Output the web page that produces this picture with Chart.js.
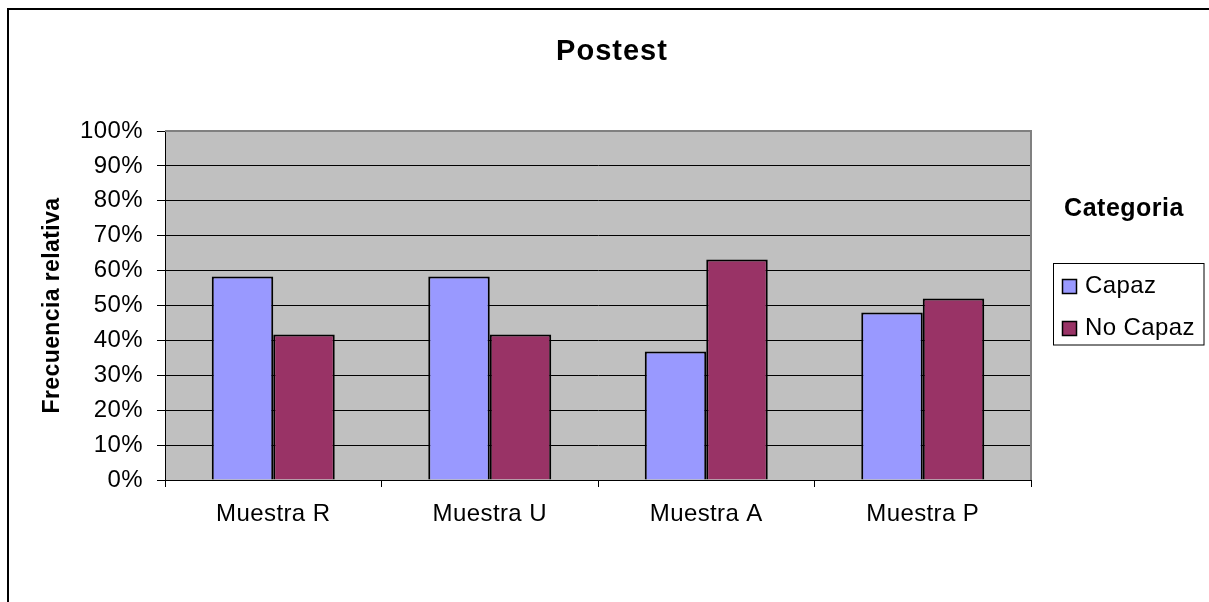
<!DOCTYPE html>
<html>
<head>
<meta charset="utf-8">
<title>Postest</title>
<script src="https://cdn.jsdelivr.net/npm/chart.js@4/dist/chart.umd.min.js"></script>
<style>
  html, body { margin: 0; padding: 0; background: #fff; overflow: hidden; }
  canvas { display: block; }
</style>
</head>
<body>
<canvas id="chart" width="1209" height="602"></canvas>
<script>
// Relative frequency of each category per sample
const categories = ['Muestra R', 'Muestra U', 'Muestra A', 'Muestra P'];
const capaz = [0.583, 0.583, 0.368, 0.48];
const noCapaz = [0.417, 0.417, 0.632, 0.52];
const seriesNames = ['Capaz', 'No Capaz'];
const yTickLabels = ['0%', '10%', '20%', '30%', '40%', '50%', '60%', '70%', '80%', '90%', '100%'];
const chartTitle = 'Postest';
const legendTitle = 'Categoria';
const yAxisTitle = 'Frecuencia relativa';

const FONT = "'Liberation Sans', Arial, sans-serif";
Chart.defaults.font.family = FONT;
Chart.defaults.color = '#000';

// Background, plot area fill, outer frame, title and legend box
const decor = {
  id: 'decor',
  beforeDraw(chart) {
    const { ctx, chartArea: a } = chart;
    ctx.save();
    ctx.fillStyle = '#fff';
    ctx.fillRect(0, 0, chart.width, chart.height);
    ctx.fillStyle = '#C0C0C0';
    ctx.fillRect(a.left, a.top, a.right - a.left, a.bottom - a.top);
    ctx.restore();
    ctx.letterSpacing = '0.4px';
  },
  afterDraw(chart) {
    const { ctx, chartArea: a } = chart;
    ctx.save();

    // plot area border (top and right)
    ctx.strokeStyle = '#808080';
    ctx.lineWidth = 2;
    ctx.beginPath();
    ctx.moveTo(a.left, a.top);
    ctx.lineTo(a.right, a.top);
    ctx.lineTo(a.right, a.bottom);
    ctx.stroke();

    // outer chart frame
    ctx.strokeStyle = '#000';
    ctx.lineWidth = 2;
    ctx.strokeRect(8, 9, chart.width + 20, chart.height + 20);

    // chart title
    ctx.fillStyle = '#000';
    ctx.textAlign = 'center';
    ctx.textBaseline = 'alphabetic';
    ctx.letterSpacing = '1px';
    ctx.font = 'bold 29px ' + FONT;
    ctx.fillText(chartTitle, 612, 60);

    // legend title
    ctx.letterSpacing = '0.5px';
    ctx.font = 'bold 25px ' + FONT;
    ctx.fillText(legendTitle, 1124, 216);

    // legend box
    ctx.lineWidth = 1;
    ctx.strokeStyle = '#000';
    ctx.fillStyle = '#fff';
    ctx.fillRect(1053, 263.5, 151, 81.5);
    ctx.strokeRect(1053.5, 263.5, 150.5, 81.5);

    ctx.letterSpacing = '0.4px';
    ctx.font = '24px ' + FONT;
    ctx.textAlign = 'left';
    const rows = [{ sq: 279.5, base: 293 }, { sq: 321.5, base: 335 }];
    chart.data.datasets.forEach((ds, i) => {
      const r = rows[i];
      ctx.fillStyle = ds.backgroundColor;
      ctx.fillRect(1062.5, r.sq, 14, 14);
      ctx.lineWidth = 1.5;
      ctx.strokeStyle = '#000';
      ctx.strokeRect(1062.5, r.sq, 14, 14);
      ctx.fillStyle = '#000';
      ctx.fillText(ds.label, 1085, r.base);
    });

    ctx.restore();
  }
};

new Chart(document.getElementById('chart'), {
  type: 'bar',
  data: {
    labels: categories,
    datasets: [
      {
        label: seriesNames[0],
        data: capaz,
        backgroundColor: '#9999FF',
        borderColor: '#000',
        borderWidth: 2
      },
      {
        label: seriesNames[1],
        data: noCapaz,
        backgroundColor: '#993366',
        borderColor: '#000',
        borderWidth: 2
      }
    ]
  },
  options: {
    responsive: false,
    animation: false,
    devicePixelRatio: 1,
    categoryPercentage: 0.568,
    barPercentage: 1,
    layout: { padding: { left: 0, top: 131, right: 178, bottom: 0 } },
    plugins: {
      legend: { display: false },
      title: { display: false },
      tooltip: { enabled: false }
    },
    scales: {
      x: {
        offset: true,
        grid: {
          display: true,
          drawOnChartArea: false,
          drawTicks: true,
          tickLength: 7,
          color: '#000',
          offset: true
        },
        border: { display: true, color: '#000', width: 1 },
        ticks: {
          font: { size: 24 },
          color: '#000',
          padding: 13,
          maxRotation: 0,
          autoSkip: false
        },
        afterFit(scale) { scale.height = 122; }
      },
      y: {
        min: 0,
        max: 1,
        grid: {
          color: '#000',
          lineWidth: 1,
          drawTicks: true,
          tickLength: 8
        },
        border: { display: true, color: '#000', width: 1 },
        ticks: {
          stepSize: 0.1,
          font: { size: 24 },
          color: '#000',
          padding: 14,
          callback: (v, i) => yTickLabels[i]
        },
        title: {
          display: true,
          text: yAxisTitle,
          color: '#000',
          font: { size: 23, weight: 'bold' },
          padding: { top: 39, bottom: 0 }
        },
        afterFit(scale) { scale.width = 165; }
      }
    }
  },
  plugins: [decor]
});
</script>
</body>
</html>
